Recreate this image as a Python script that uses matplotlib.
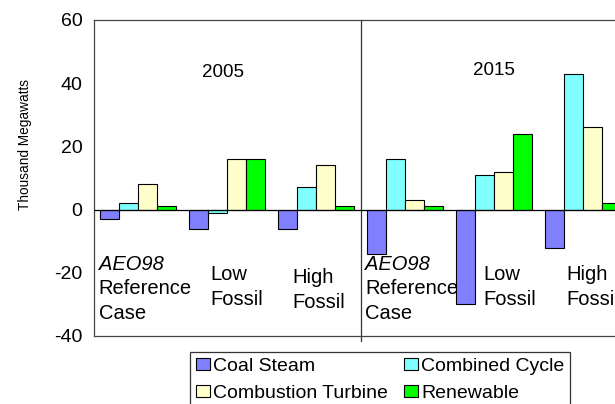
import matplotlib.pyplot as plt
import numpy as np
from matplotlib.patches import Patch

plt.rcParams["font.family"] = ["Liberation Sans", "DejaVu Sans"]
plt.rcParams["axes.unicode_minus"] = False

# cenários: 2005 (3) e 2015 (3)
cenarios = ["AEO98 Ref 2005", "Low Fossil 2005", "High Fossil 2005",
            "AEO98 Ref 2015", "Low Fossil 2015", "High Fossil 2015"]
coal_steam = [-3, -6, -6, -14, -30, -12]
combined_cycle = [2, -1, 7, 16, 11, 43]
combustion_turbine = [8, 16, 14, 3, 12, 26]
renewable = [1, 16, 1, 1, 24, 2]

series = [
    ("Coal Steam", coal_steam, "#8080ff"),
    ("Combined Cycle", combined_cycle, "#80ffff"),
    ("Combustion Turbine", combustion_turbine, "#ffffcc"),
    ("Renewable", renewable, "#00ff00"),
]

fig = plt.figure(figsize=(6.15, 4.04), dpi=100)
ax = fig.add_axes([93.5 / 615, 68 / 404, 534 / 615, 316 / 404])

x = np.arange(len(cenarios))
w = 0.2135
for k, (nome, vals, cor) in enumerate(series):
    ax.bar(x + (k - 1.5) * w, vals, w, color=cor, edgecolor="black",
           linewidth=0.8, zorder=2)

ax.axhline(0, color="black", linewidth=0.9, zorder=3)
ax.axvline(2.5, ymin=-0.015, ymax=1, color="#333333", linewidth=0.9,
           clip_on=False)

ax.set_xlim(-0.5, 5.5)
ax.set_ylim(-40, 60)
ax.set_yticks([-40, -20, 0, 20, 40, 60])
ax.set_xticks([])
ax.tick_params(axis="y", length=0, labelsize=14, pad=8)
ax.spines["right"].set_visible(False)
for s in ("left", "top", "bottom"):
    ax.spines[s].set_color("#444444")
    ax.spines[s].set_linewidth(0.9)
fig.text(25 / 615, 1 - 145 / 404, "Thousand Megawatts", fontsize=9.8,
         rotation=90, ha="center", va="center")

# rótulos de ano e cenário
ax.text(0.95, 43.5, "2005", fontsize=13.5, ha="center", va="center")
ax.text(4.0, 44, "2015", fontsize=13.5, ha="center", va="center")

fs = 14.5
for x0, y0 in [(-0.44, -17.3), (2.55, -17.3)]:
    ax.text(x0, y0, "AEO98", fontsize=fs, style="italic", va="center")
    ax.text(x0, y0 - 7.8, "Reference", fontsize=fs, va="center")
    ax.text(x0, y0 - 15.6, "Case", fontsize=fs, va="center")
for x0, y0, rot in [(0.81, -20.5, "Low"), (1.73, -21.5, "High"),
                    (3.88, -20.5, "Low"), (4.81, -20.5, "High")]:
    ax.text(x0, y0, rot, fontsize=fs, va="center")
    ax.text(x0, y0 - 7.8, "Fossil", fontsize=fs, va="center")

# ordem por colunas para que as linhas fiquem como no original
ordem = [0, 2, 1, 3]
handles = [Patch(facecolor=series[i][2], edgecolor="black", linewidth=0.8) for i in ordem]
labels = [series[i][0] for i in ordem]
leg = fig.legend(handles, labels, ncol=2, loc="upper left",
                 bbox_to_anchor=(190 / 615, 1 - 352 / 404), fontsize=14,
                 frameon=True, fancybox=False, edgecolor="black",
                 handlelength=0.75, handleheight=0.6, handletextpad=0.15,
                 columnspacing=0.8, labelspacing=0.5, borderpad=0.3,
                 borderaxespad=0)
leg.get_frame().set_linewidth(0.9)

fig.savefig("out.png", dpi=100)
